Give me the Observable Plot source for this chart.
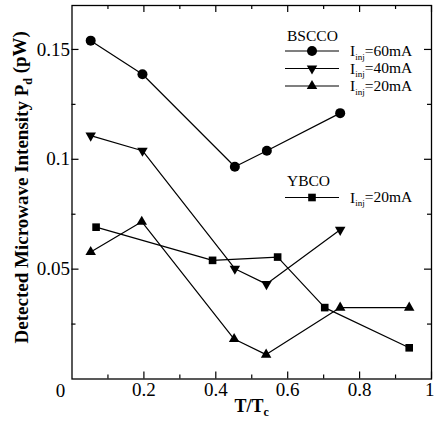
<!DOCTYPE html>
<html><head><meta charset="utf-8">
<script src="https://cdn.jsdelivr.net/npm/d3@7"></script>
<script src="https://cdn.jsdelivr.net/npm/@observablehq/plot@0.6"></script>
<style>
body{margin:0;background:#fff}
#wrap{position:relative;width:434px;height:422px;font-family:"Liberation Serif","Times New Roman",serif;color:#000}
#legend{position:absolute;left:0;top:0;pointer-events:none}
</style></head><body><div id="wrap"></div>
<script>
// ---- data ----
const seriesNames = ["BSCCO 60mA", "BSCCO 40mA", "BSCCO 20mA", "YBCO 20mA"];
const b60x = [0.052, 0.196, 0.453, 0.542, 0.746];
const b60y = [0.154, 0.1387, 0.0966, 0.1039, 0.121];
const b40x = [0.052, 0.196, 0.453, 0.541, 0.746];
const b40y = [0.1108, 0.1039, 0.0502, 0.0432, 0.0679];
const b20x = [0.052, 0.194, 0.451, 0.540, 0.746, 0.938];
const b20y = [0.0578, 0.0716, 0.0182, 0.0111, 0.0325, 0.0325];
const y20x = [0.067, 0.391, 0.572, 0.703, 0.938];
const y20y = [0.0691, 0.054, 0.0555, 0.0325, 0.0142];

const xMajor = [0.2, 0.4, 0.6, 0.8, 1];
const xMinor = [0.1, 0.3, 0.5, 0.7, 0.9];
const yMajor = [0.05, 0.1, 0.15];
const yMinor = [0.025, 0.075, 0.125];
const xDomain = [0, 1];
const yDomain = [0, 0.17];
const zeroLabel = ["0"];
const xTitle = ["T/Tc"];
const yTitle = ["Detected Microwave Intensity Pd (pW)"];

// ---- table ----
const cols = [[b60x, b60y], [b40x, b40y], [b20x, b20y], [y20x, y20y]];
const data = cols.flatMap(([xs, ys], s) => xs.map((x, i) => ({series: seriesNames[s], x, y: ys[i]})));

const sqrt3 = Math.sqrt(3);
const triDown = {
  draw(ctx, size) {
    const y = -Math.sqrt(size / (sqrt3 * 3));
    ctx.moveTo(0, -y * 2);
    ctx.lineTo(-sqrt3 * y, y);
    ctx.lineTo(sqrt3 * y, y);
    ctx.closePath();
  }
};
const symbols = {"BSCCO 60mA": "circle", "BSCCO 40mA": triDown, "BSCCO 20mA": "triangle", "YBCO 20mA": "square"};
const radii = {"BSCCO 60mA": 5, "BSCCO 40mA": 3.9, "BSCCO 20mA": 3.9, "YBCO 20mA": 4.3};

const FONT = '"Liberation Serif","Times New Roman",serif';
const MAJ = 7, MIN = 4;
const tickStyle = {stroke: "#000", strokeWidth: 1.2};
const fmt = d => String(d);

const chart = Plot.plot({
  width: 434, height: 422,
  marginLeft: 71.5, marginRight: 3, marginTop: 5, marginBottom: 43.5,
  style: {fontFamily: FONT, fontSize: "19px", color: "#000", background: "#fff"},
  x: {domain: xDomain},
  y: {domain: yDomain},
  marks: [
    Plot.frame({stroke: "#000", strokeWidth: 1.3}),
    // inward ticks: bottom, top, left, right
    Plot.ruleX(xMajor, {x: d => d, y1: yDomain[0], y2: yDomain[0], insetTop: -MAJ, ...tickStyle}),
    Plot.ruleX(xMinor, {x: d => d, y1: yDomain[0], y2: yDomain[0], insetTop: -MIN, ...tickStyle}),
    Plot.ruleX(xMajor, {x: d => d, y1: yDomain[1], y2: yDomain[1], insetBottom: -MAJ, ...tickStyle}),
    Plot.ruleX(xMinor, {x: d => d, y1: yDomain[1], y2: yDomain[1], insetBottom: -MIN, ...tickStyle}),
    Plot.ruleY(yMajor, {y: d => d, x1: xDomain[0], x2: xDomain[0], insetRight: -MAJ, ...tickStyle}),
    Plot.ruleY(yMinor, {y: d => d, x1: xDomain[0], x2: xDomain[0], insetRight: -MIN, ...tickStyle}),
    Plot.ruleY(yMajor, {y: d => d, x1: xDomain[1], x2: xDomain[1], insetLeft: -MAJ, ...tickStyle}),
    Plot.ruleY(yMinor, {y: d => d, x1: xDomain[1], x2: xDomain[1], insetLeft: -MIN, ...tickStyle}),
    // tick labels
    Plot.axisX(xMajor, {tickSize: 0, tickPadding: 3.5, label: null, fontSize: 19, fontFamily: FONT, tickFormat: fmt}),
    Plot.axisY(yMajor, {tickSize: 0, tickPadding: 2, label: null, fontSize: 19, fontFamily: FONT, tickFormat: fmt}),
    Plot.text(zeroLabel, {x: xDomain[0], y: yDomain[0], text: d => d, dx: -11.5, dy: 11.5, fontSize: 19, fontFamily: FONT}),
    // axis titles
    Plot.text(xTitle, {frameAnchor: "bottom", text: d => d, dy: 33, fontSize: 18, fontWeight: "bold", fontFamily: FONT}),
    Plot.text(yTitle, {frameAnchor: "left", textAnchor: "middle", lineAnchor: "middle", text: d => d, rotate: -90, dx: -50, dy: -5, fontSize: 19, fontWeight: "bold", fontFamily: FONT}),
    // data
    Plot.line(data, {x: "x", y: "y", z: "series", stroke: "#000", strokeWidth: 1.2}),
    ...seriesNames.map(s => Plot.dot(data.filter(d => d.series === s), {x: "x", y: "y", symbol: () => symbols[s], r: radii[s], fill: "#000", stroke: "none"}))
  ]
});

// force serif everywhere, subscripts in titles, keep the last x label inside
d3.select(chart).selectAll("text").style("font-family", FONT).style("font-variant", "normal");
d3.select(chart).selectAll("text").each(function() {
  const t = this.textContent;
  if (t === xTitle[0]) {
    d3.select(this).text(null).call(s => {
      s.append("tspan").text("T/T");
      s.append("tspan").attr("font-size", "12px").attr("dy", "0.3em").text("c");
    });
  } else if (t === yTitle[0]) {
    d3.select(this).text(null).call(s => {
      s.append("tspan").text("Detected Microwave Intensity P");
      s.append("tspan").attr("font-size", "12px").attr("dy", "0.3em").text("d");
      s.append("tspan").attr("dy", "-0.3em").text(" (pW)");
    });
  } else if (t === fmt(xMajor[xMajor.length - 1])) {
    d3.select(this).attr("text-anchor", "end").attr("dx", 3);
  }
});

const wrap = document.getElementById("wrap");
wrap.appendChild(chart);

// ---- legend overlay ----
const legendGroups = ["BSCCO", "YBCO"];
const legendRows = [
  {group: "BSCCO", series: "BSCCO 60mA", cur: "60mA"},
  {group: "BSCCO", series: "BSCCO 40mA", cur: "40mA"},
  {group: "BSCCO", series: "BSCCO 20mA", cur: "20mA"},
  {group: "YBCO", series: "YBCO 20mA", cur: "20mA"}
];
const lg = d3.select(wrap).append("svg").attr("id", "legend").attr("width", 434).attr("height", 422)
  .style("font-family", FONT);
const groupTop = {BSCCO: 35.5, YBCO: 181};
const rowY = [51, 68.5, 86, 197.5];
legendGroups.forEach(g => {
  lg.append("text").attr("x", 287).attr("y", groupTop[g]).attr("dy", "0.35em").attr("font-size", 15.5).text(g);
});
const symMap = {circle: d3.symbolCircle, triangle: d3.symbolTriangle, square: d3.symbolSquare};
legendRows.forEach((r, i) => {
  const y = rowY[i];
  lg.append("line").attr("x1", 285).attr("x2", 339).attr("y1", y).attr("y2", y).attr("stroke", "#000").attr("stroke-width", 1.2);
  const rr = radii[r.series];
  const sym = typeof symbols[r.series] === "string" ? symMap[symbols[r.series]] : symbols[r.series];
  lg.append("path").attr("transform", `translate(312,${y})`).attr("d", d3.symbol(sym, rr * rr * Math.PI)()).attr("fill", "#000");
  const t = lg.append("text").attr("x", 350).attr("y", y).attr("dy", "0.35em").attr("font-size", 15.5);
  t.append("tspan").text("I");
  t.append("tspan").attr("font-size", 9).attr("dy", "0.35em").text("inj");
  t.append("tspan").attr("dy", "-0.25em").text("=" + r.cur);
});
</script></body></html>
